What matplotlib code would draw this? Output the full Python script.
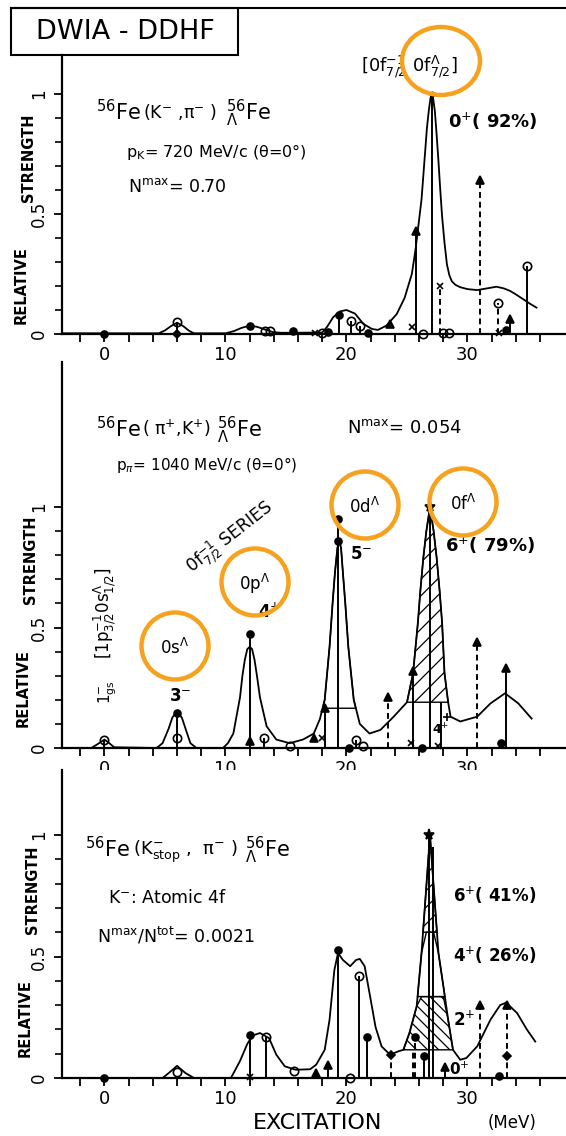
import numpy as np
import matplotlib
matplotlib.use('Agg')
import matplotlib.pyplot as plt
from matplotlib.patches import Ellipse, Rectangle
from matplotlib.lines import Line2D

W, H = 566, 1136

# ---------------- data ----------------
# excitation energy (MeV) and relative strength

# top panel: 56Fe(K-, pi-) 56/Lambda Fe, pK = 720 MeV/c
top_curve_E = [-3.5, 4.5, 5.0, 5.5, 6.0, 6.5, 7.0, 7.4, 10.0, 10.7, 11.3, 12.0, 12.6,
               13.2, 13.9, 14.6, 18.0, 18.4, 18.9, 19.45, 20.0, 20.7, 21.4, 22.1, 22.6,
               23.3, 24.15, 24.8, 25.4, 25.7, 26.2, 26.35, 26.5, 26.65, 26.8, 26.95,
               27.05, 27.15, 27.3, 27.45, 27.6, 27.75, 27.9, 28.1, 28.3, 28.5, 28.7,
               29.0, 29.4, 30.0, 30.8, 31.6, 32.4, 33.0, 33.5, 34.0, 34.6, 35.2, 35.7]
top_curve_y = [0.003, 0.003, 0.015, 0.033, 0.047, 0.033, 0.013, 0.003, 0.003, 0.012,
               0.025, 0.035, 0.03, 0.02, 0.008, 0.005, 0.006, 0.03, 0.07, 0.094, 0.10,
               0.085, 0.042, 0.021, 0.017, 0.035, 0.083, 0.15, 0.25, 0.35, 0.56, 0.66,
               0.76, 0.86, 0.93, 0.985, 1.0, 0.985, 0.93, 0.83, 0.72, 0.6, 0.49, 0.38,
               0.29, 0.245, 0.22, 0.205, 0.195, 0.187, 0.183, 0.19, 0.197, 0.19, 0.18,
               0.165, 0.145, 0.125, 0.11]
top_E = [0.0, 6.0, 6.0, 12.0, 13.3, 13.7, 15.6, 17.4, 18.0, 18.5, 19.4, 20.35, 21.1,
         21.8, 23.6, 25.4, 25.75, 26.35, 27.1, 27.7, 28.0, 28.5, 31.0, 32.5, 32.6,
         33.2, 33.5, 34.95]
top_h = [0.0, 0.05, 0.0, 0.035, 0.013, 0.013, 0.012, 0.005, 0.005, 0.01, 0.08, 0.055,
         0.035, 0.005, 0.04, 0.03, 0.43, 0.0, 1.0, 0.2, 0.005, 0.005, 0.64, 0.13,
         0.005, 0.015, 0.063, 0.285]
top_mark = ['dot', 'phi', 'dia', 'dot', 'phi', 'phi', 'dot', 'x', 'phi', 'dot', 'dot',
            'phi', 'phi', 'dot', 'tri', 'x', 'tri', 'phi', 'sdot', 'x', 'phi', 'phi',
            'tri', 'phi', 'x', 'dot', 'tri', 'phi']
top_stem = ['', 'S', '', '', '', '', '', '', '', '', 'S', 'S', 'S', '', '', '', 'S', '',
            'S', 'D', '', '', 'D', 'D', '', '', 'S', 'S']

# middle panel: 56Fe(pi+, K+) 56/Lambda Fe, p_pi = 1040 MeV/c
mid_curve_E = [-3.5, -1.1, -0.6, 0.0, 0.4, 0.8, 4.3, 4.8, 5.3, 5.6, 5.8, 6.0, 6.2, 6.4,
               6.7, 7.1, 7.6, 9.8, 10.2, 10.65, 11.2, 11.4, 11.6, 11.8, 12.0, 12.2,
               12.4, 12.6, 12.85, 13.4, 14.2, 15.3, 16.4, 17.3, 17.8, 18.2, 18.6, 18.85,
               19.05, 19.25, 19.4, 19.55, 19.7, 19.9, 20.15, 20.6, 21.1, 21.9, 22.8,
               23.9, 25.0, 25.5, 25.9, 26.1, 26.35, 26.6, 26.9, 27.2, 27.45, 27.7, 27.9,
               28.1, 28.4, 28.6, 29.4, 30.8, 31.9, 33.1, 34.2, 35.3]
mid_curve_y = [0.0, 0.0, 0.015, 0.035, 0.02, 0.003, 0.0, 0.02, 0.08, 0.125, 0.14, 0.145,
               0.14, 0.125, 0.08, 0.02, 0.0, 0.0, 0.02, 0.06, 0.21, 0.3, 0.366, 0.41,
               0.42, 0.41, 0.366, 0.3, 0.21, 0.09, 0.035, 0.02, 0.035, 0.06, 0.12, 0.2,
               0.42, 0.6, 0.73, 0.83, 0.86, 0.83, 0.73, 0.6, 0.42, 0.2, 0.10, 0.06,
               0.075, 0.13, 0.19, 0.31, 0.52, 0.65, 0.79, 0.9, 1.0, 0.9, 0.79, 0.65,
               0.52, 0.31, 0.19, 0.13, 0.11, 0.13, 0.185, 0.227, 0.185, 0.122]
mid_E = [0.0, 6.0, 6.0, 12.0, 12.0, 13.2, 15.3, 17.3, 18.0, 18.2, 19.3, 19.3, 20.2,
         20.8, 21.4, 23.45, 25.3, 25.5, 26.2, 26.9, 27.6, 27.8, 28.3, 30.8, 32.8, 33.2]
mid_h = [0.035, 0.145, 0.04, 0.475, 0.03, 0.04, 0.01, 0.04, 0.04, 0.165, 0.95, 0.86,
         0.0, 0.035, 0.01, 0.21, 0.02, 0.32, 0.0, 1.0, 0.01, 0.19, 0.13, 0.44, 0.02, 0.33]
mid_mark = ['phi', 'dot', 'phi', 'dot', 'tri', 'phi', 'phi', 'tri', 'x', 'tri', 'dot',
            'dot', 'dot', 'phi', 'phi', 'tri', 'x', 'tri', 'dot', 'star', 'x', 'none',
            'plus', 'tri', 'dot', 'tri']
mid_stem = ['S', 'S', '', 'S', '', 'S', '', '', '', 'S', 'S', '', '', 'S', '', 'D', '',
            'S', '', 'S', '', 'S', '', 'D', '', 'S']

# bottom panel: 56Fe(K-stop, pi-) 56/Lambda Fe, atomic 4f
bot_curve_E = [-3.5, 4.8, 5.3, 6.0, 6.7, 7.4, 10.45, 11.2, 11.8, 12.25, 12.85, 13.6,
               14.2, 14.9, 15.8, 17.0, 17.5, 18.2, 18.6, 19.0, 19.3, 19.7, 20.3, 20.8,
               21.1, 21.5, 21.9, 22.4, 22.9, 23.6, 24.3, 24.7, 25.2, 25.8, 26.2, 26.6,
               26.9, 27.2, 27.6, 28.0, 28.4, 28.8, 29.4, 29.9, 30.8, 31.9, 32.7, 33.2,
               34.1, 34.9, 35.6]
bot_curve_y = [0.0, 0.0, 0.02, 0.05, 0.02, 0.0, 0.0, 0.07, 0.14, 0.175, 0.185, 0.164,
               0.096, 0.048, 0.034, 0.036, 0.055, 0.116, 0.24, 0.445, 0.514, 0.486,
               0.46, 0.486, 0.49, 0.46, 0.35, 0.21, 0.13, 0.096, 0.11, 0.116, 0.185,
               0.295, 0.514, 0.79, 1.0, 0.79, 0.514, 0.38, 0.24, 0.116, 0.075, 0.082,
               0.13, 0.24, 0.3, 0.31, 0.267, 0.2, 0.15]
bot_E = [0.0, 6.0, 12.05, 12.0, 13.35, 15.7, 17.5, 18.5, 19.3, 20.3, 21.06, 21.7, 23.65,
         25.5, 25.66, 26.4, 26.85, 27.15, 28.1, 31.0, 32.6, 33.3, 33.3]
bot_h = [0.0, 0.025, 0.178, 0.005, 0.17, 0.03, 0.02, 0.055, 0.527, 0.0, 0.418, 0.17,
         0.096, 0.12, 0.17, 0.09, 1.0, 0.95, 0.045, 0.30, 0.01, 0.30, 0.09]
bot_mark = ['dot', 'phi', 'dot', 'x', 'phi', 'phi', 'tri', 'tri', 'dot', 'phi', 'phi',
            'dot', 'dia', 'none', 'dot', 'dot', 'star', 'none', 'tri', 'tri', 'dot',
            'tri', 'dia']
bot_stem = ['', '', 'S', '', 'S', '', '', 'S', 'S', '', 'S', 'S', 'D', 'D', 'D', 'S',
            'S', 'S', 'S', 'D', '', 'D', '']

# shaded spin components (lower level, upper level, energy window, hatch)
mid_bands = [(0.19, 2.0, 24.0, 29.0, '//'), (0.165, 2.0, 17.0, 21.5, None)]
bot_bands = [(0.6, 2.0, 24.0, 29.2, '//'), (0.335, 0.6, 24.0, 29.2, None),
             (0.116, 0.335, 24.0, 29.2, '\\\\\\')]

xmajor = [0, 10, 20, 30]
xminor = list(range(-2, 37, 2))
yticks = [0, 0.5, 1]
ylabels = ['0', '0.5', '1']
yminor = [0.1, 0.2, 0.3, 0.4, 0.6, 0.7, 0.8, 0.9]

# ---------------- drawing ----------------
plt.rcParams['font.family'] = 'DejaVu Sans'
plt.rcParams['hatch.linewidth'] = 0.9
plt.rcParams['mathtext.fontset'] = 'dejavusans'

fig = plt.figure(figsize=(W / 100, H / 100), dpi=100)

MK = {
    'dot': dict(marker='o', mfc='k', ms=5),
    'sdot': dict(marker='o', mfc='k', ms=3),
    'phi': dict(marker='o', mfc='none', ms=6),
    'tri': dict(marker='^', mfc='k', ms=6),
    'x': dict(marker='x', ms=5),
    'dia': dict(marker='D', mfc='k', ms=4),
    'star': dict(marker='*', mfc='k', ms=8),
    'plus': dict(marker='+', ms=6),
}


def panel(top_px, zero_px, per_unit):
    ax = fig.add_axes([62 / W, 1 - zero_px / H, 1 - 62 / W, (zero_px - top_px) / H])
    ax.set_xlim(-3.51, 38.14)
    ax.set_ylim(0, (zero_px - top_px) / per_unit)
    for s in ['top', 'right']:
        ax.spines[s].set_visible(False)
    for s in ['left', 'bottom']:
        ax.spines[s].set_linewidth(1.6)
    ax.set_xticks(xmajor)
    ax.set_xticks(xminor, minor=True)
    ax.set_yticks(yticks)
    ax.set_yticklabels(ylabels, rotation=90, va='center')
    ax.set_yticks(yminor, minor=True)
    ax.tick_params(axis='x', which='both', direction='out', length=6, width=1.3,
                   labelsize=13, pad=3)
    ax.tick_params(axis='y', which='major', direction='out', length=6, width=1.3,
                   labelsize=12, pad=4)
    ax.tick_params(axis='y', which='minor', direction='out', length=5, width=1.2)
    return ax


def draw(ax, cE, cy, E, h, mark, stem, bands=()):
    cE = np.array(cE)
    cy = np.array(cy)
    for lo, hi, e0, e1, hatch in bands:
        ax.fill_between(cE, lo, np.minimum(cy, hi),
                        where=(cy >= lo) & (cE >= e0) & (cE <= e1), interpolate=True,
                        facecolor='none', edgecolor='k', hatch=hatch, lw=1.0, zorder=2)
    ax.plot(cE, cy, color='k', lw=1.3, zorder=3)
    for e, v, m, s in zip(E, h, mark, stem):
        if s:
            ax.vlines(e, 0, v, colors='k', lw=1.4, zorder=4,
                      linestyles='-' if s == 'S' else (0, (3, 2)))
        if m != 'none':
            ax.plot([e], [v], ls='none', color='k', mec='k', mew=1.2, clip_on=False,
                    zorder=5, **MK[m])


def txt(x, y, s, size=11, **kw):
    kw.setdefault('ha', 'left')
    kw.setdefault('va', 'baseline')
    fig.text(x / W, 1 - y / H, s, fontsize=size, **kw)


def ring(x, y, w, h):
    fig.add_artist(Ellipse((x / W, 1 - y / H), w / W, h / H, transform=fig.transFigure,
                           fill=False, edgecolor='#F6A21E', lw=3.2, zorder=10))


ax1 = panel(55, 334, 240)
draw(ax1, top_curve_E, top_curve_y, top_E, top_h, top_mark, top_stem)
ax2 = panel(362, 748, 241)
draw(ax2, mid_curve_E, mid_curve_y, mid_E, mid_h, mid_mark, mid_stem, mid_bands)
ax3 = panel(770, 1078, 243)
draw(ax3, bot_curve_E, bot_curve_y, bot_E, bot_h, bot_mark, bot_stem, bot_bands)

# frame and title box
fig.add_artist(Line2D([11 / W, 1.0], [1 - 8 / H] * 2, color='k', lw=1.5,
                      transform=fig.transFigure))
fig.add_artist(Rectangle((11 / W, 1 - 55 / H), 227 / W, 47 / H, fill=False,
                         edgecolor='k', lw=1.5, transform=fig.transFigure))
txt(125, 32, 'DWIA - DDHF', 19.5, ha='center', va='center')

# y axis titles
for xr, yr, xs, ys in [(21, 285, 28, 158), (23, 688, 30, 560), (25, 1018, 32, 890)]:
    txt(xr, yr, 'RELATIVE', 10.5, ha='center', va='center', rotation=90, weight='bold')
    txt(xs, ys, 'STRENGTH', 10.5, ha='center', va='center', rotation=90, weight='bold')

# top panel labels
txt(96, 120, r'$^{56}$Fe', 15)
txt(143, 118, r'(K$^{-}$ ,π$^{-}$ )', 12.5)
txt(226, 120, r'$^{56}_{\Lambda}$Fe', 15)
txt(126, 157, r'p$_{\rm K}$= 720 MeV/c (θ=0°)', 11.5)
txt(128, 192, r'N$^{\rm max}$= 0.70', 12.5)
txt(361, 72, r'[0f$^{-1}_{7/2}$ 0f$^{\Lambda}_{7/2}$]', 13)
txt(448, 128, r'0$^{+}$( 92%)', 13, weight='bold')
ring(441, 61, 78, 68)

# middle panel labels
txt(96, 437, r'$^{56}$Fe', 15)
txt(142, 435, r'( π$^{+}$,K$^{+}$)', 12.5)
txt(217, 437, r'$^{56}_{\Lambda}$Fe', 15)
txt(347, 433, r'N$^{\rm max}$= 0.054', 13)
txt(116, 470, r'p$_{\pi}$= 1040 MeV/c (θ=0°)', 11)
txt(105, 613, r'[1p$^{-1}_{3/2}$0s$^{\Lambda}_{1/2}$]', 12, ha='center', va='center',
    rotation=90)
txt(108, 692, r'1$^{-}_{\rm gs}$', 11, ha='center', va='center', rotation=90)
txt(180, 696, r'3$^{-}$', 12, ha='center', va='center', weight='bold')
txt(230, 537, r'0f$^{-1}_{7/2}$ SERIES', 12.5, ha='center', va='center', rotation=38,
    rotation_mode='anchor')
txt(269, 612, r'4$^{+}$', 12, ha='center', va='center', weight='bold')
txt(361, 554, r'5$^{-}$', 12, ha='center', va='center', weight='bold')
txt(445, 552, r'6$^{+}$( 79%)', 13, weight='bold')
txt(441, 730, r'4$^{+}$', 9, ha='center', va='center', weight='bold')
for cx, cy, lab in [(175, 646, 's'), (255, 582, 'p'), (365, 505, 'd'), (463, 502, 'f')]:
    txt(cx, cy + 2, '0' + lab + r'$^{\Lambda}$', 12, ha='center', va='center')
    ring(cx, cy, 67, 67)

# bottom panel labels
txt(85, 857, r'$^{56}$Fe', 15)
txt(133, 855, r'(K$^{-}_{\rm stop}$ ,  π$^{-}$ )', 13)
txt(245, 857, r'$^{56}_{\Lambda}$Fe', 15)
txt(108, 903, r'K$^{-}$: Atomic 4f', 12.5)
txt(97, 942, r'N$^{\rm max}$/N$^{\rm tot}$= 0.0021', 12.5)
txt(453, 902, r'6$^{+}$( 41%)', 12, weight='bold')
txt(453, 962, r'4$^{+}$( 26%)', 12, weight='bold')
txt(453, 1026, r'2$^{+}$', 12, weight='bold')
txt(449, 1075, r'0$^{+}$', 11, weight='bold')
txt(318, 1123, 'EXCITATION', 16, ha='center', va='center')
txt(512, 1123, '(MeV)', 12, ha='center', va='center')

fig.savefig('out.png', dpi=100, facecolor='white')
